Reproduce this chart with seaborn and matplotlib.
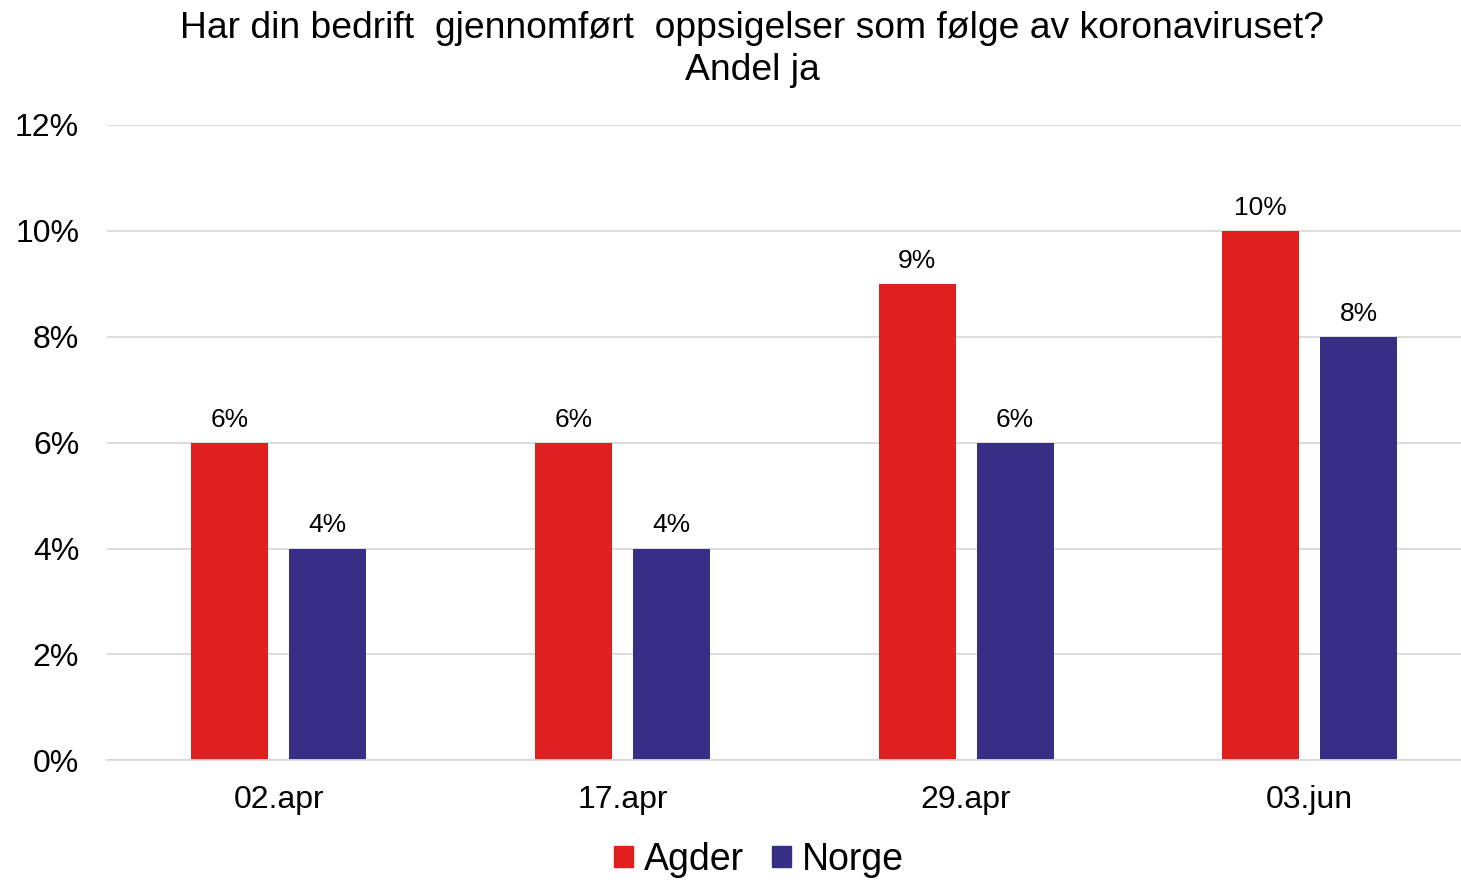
import pandas as pd
import seaborn as sns
import matplotlib.pyplot as plt
from matplotlib.ticker import PercentFormatter

# data
datoer = ["02.apr", "17.apr", "29.apr", "03.jun"]
agder = [6, 6, 9, 10]
norge = [4, 4, 6, 8]
serier = ["Agder", "Norge"]
farger = ["#E0201F", "#372E86"]

df = pd.DataFrame({
    "dato": datoer * 2,
    "serie": ["Agder"] * len(datoer) + ["Norge"] * len(datoer),
    "andel": agder + norge,
})

sns.set_theme(style="white")
plt.rcParams["font.family"] = ["Liberation Sans", "DejaVu Sans"]

fig = plt.figure(figsize=(14.61, 8.8), dpi=100)
ax = fig.add_axes([0.0732, 0.136, 0.9268, 0.722])

sns.barplot(data=df, x="dato", y="andel", hue="serie", hue_order=serier,
            palette=farger, width=0.57, gap=0.214, saturation=1,
            linewidth=0, ax=ax)

for cont in ax.containers:
    ax.bar_label(cont, labels=[f"{v:.0f}%" for v in cont.datavalues],
                 padding=8, fontsize=19, color="black")

ax.set_ylim(0, 12)
ax.set_xlim(-0.5, 3.44)
ax.set_yticks(range(0, 13, 2))
ax.yaxis.set_major_formatter(PercentFormatter(decimals=0))
ax.grid(axis="y", color="#d9d9d9", linewidth=1.3)
ax.set_axisbelow(True)
for s in ["top", "right", "left"]:
    ax.spines[s].set_visible(False)
ax.spines["bottom"].set_color("#d9d9d9")
ax.spines["bottom"].set_linewidth(1.3)
ax.tick_params(axis="y", labelsize=23, pad=20, length=0, labelcolor="black")
ax.tick_params(axis="x", labelsize=23, pad=18, length=0, labelcolor="black")
ax.set_xlabel("")
ax.set_ylabel("")

fig.text(0.515, 0.987, "Har din bedrift  gjennomført  oppsigelser som følge av koronaviruset?\nAndel ja",
         ha="center", va="top", fontsize=26.8, linespacing=1.25, color="black")

ax.legend_.remove()
handles = [plt.Rectangle((0, 0), 1, 1, color=c) for c in farger]
fig.legend(handles, serier, loc="lower center", bbox_to_anchor=(0.5195, -0.036),
           ncol=2, frameon=False, fontsize=27, labelcolor="black",
           handlelength=0.5, handleheight=0.5, handletextpad=0.3, columnspacing=0.75)

fig.savefig("out.png", dpi=100)
